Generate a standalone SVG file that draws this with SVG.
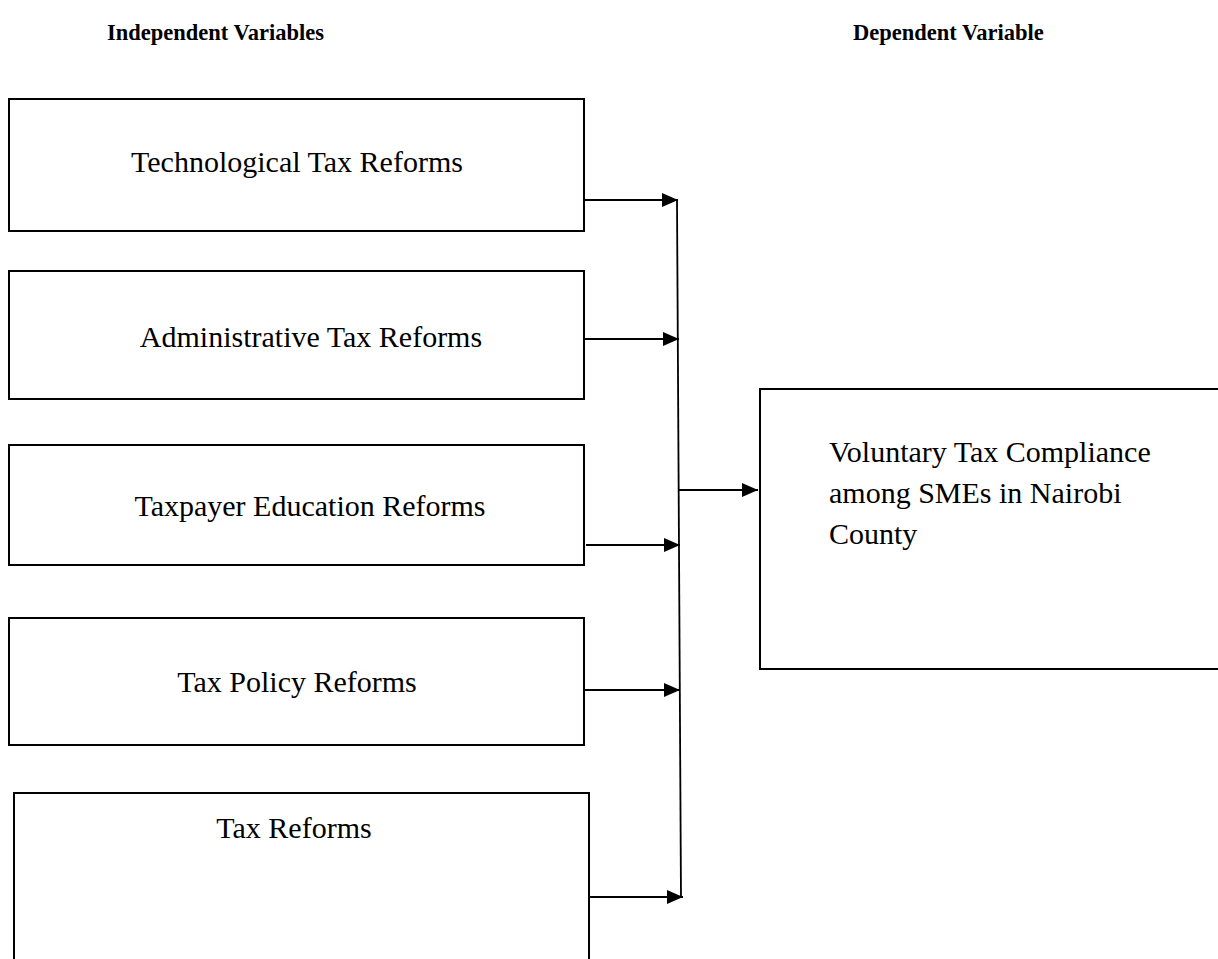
<svg xmlns="http://www.w3.org/2000/svg" width="1218" height="959" viewBox="0 0 1218 959">
<style>
.box{fill:#fff;stroke:#000;stroke-width:2}
.t{font-family:"Liberation Serif","Times New Roman",serif;font-size:30px;fill:#000}
.h{font-family:"Liberation Serif","Times New Roman",serif;font-size:22.5px;font-weight:bold;fill:#000}
.c{stroke:#000;stroke-width:1.8;fill:none}
</style>
<defs>
<marker id="ah" markerUnits="userSpaceOnUse" markerWidth="18" markerHeight="16" refX="16" refY="8" orient="auto">
<path d="M0,1 L16,8 L0,15 z" fill="#000"/>
</marker>
</defs>
<rect width="1218" height="959" fill="#fff"/>
<g id="headers">
<text class="h" x="107" y="40">Independent Variables</text>
<text class="h" x="853" y="40">Dependent Variable</text>
</g>
<g id="node-tech">
<rect class="box" x="9" y="99" width="575" height="132"/>
<text class="t" x="297" y="172" text-anchor="middle">Technological Tax Reforms</text>
</g>
<g id="node-admin">
<rect class="box" x="9" y="271" width="575" height="128"/>
<text class="t" x="311" y="347" text-anchor="middle">Administrative Tax Reforms</text>
</g>
<g id="node-edu">
<rect class="box" x="9" y="445" width="575" height="120"/>
<text class="t" x="310" y="516" text-anchor="middle">Taxpayer Education Reforms</text>
</g>
<g id="node-policy">
<rect class="box" x="9" y="618" width="575" height="127"/>
<text class="t" x="297" y="692" text-anchor="middle">Tax Policy Reforms</text>
</g>
<g id="node-tax">
<rect class="box" x="14" y="793" width="575" height="175"/>
<text class="t" x="294" y="838" text-anchor="middle">Tax Reforms</text>
</g>
<g id="node-dep">
<rect class="box" x="760" y="389" width="470" height="280"/>
<text class="t" x="829" y="462">Voluntary Tax Compliance</text>
<text class="t" x="829" y="503">among SMEs in Nairobi</text>
<text class="t" x="829" y="544">County</text>
</g>
<g id="connectors">
<line class="c" x1="677" y1="200" x2="681" y2="898"/>
<line class="c" x1="584" y1="200" x2="678" y2="200" marker-end="url(#ah)"/>
<line class="c" x1="584" y1="339" x2="679" y2="339" marker-end="url(#ah)"/>
<line class="c" x1="586" y1="545" x2="680" y2="545" marker-end="url(#ah)"/>
<line class="c" x1="584" y1="690" x2="680" y2="690" marker-end="url(#ah)"/>
<line class="c" x1="590" y1="897" x2="683" y2="897" marker-end="url(#ah)"/>
<line class="c" x1="678" y1="490" x2="758" y2="490" marker-end="url(#ah)"/>
</g>
</svg>
